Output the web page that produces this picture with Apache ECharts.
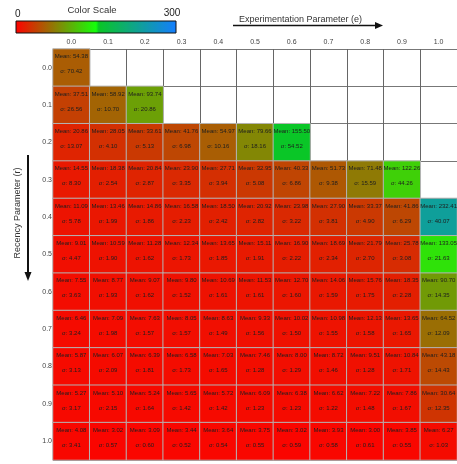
<!DOCTYPE html>
<html>
<head>
<meta charset="utf-8">
<script src="https://cdn.jsdelivr.net/npm/echarts@6/dist/echarts.min.js"></script>
<style>
  html, body { margin: 0; padding: 0; background: #ffffff; }
  #chart { width: 457px; height: 464px; }
</style>
</head>
<body>
<div id="chart"></div>
<script>
// Experimentation parameter (columns) and recency parameter (rows)
const eLabels = ['0.0', '0.1', '0.2', '0.3', '0.4', '0.5', '0.6', '0.7', '0.8', '0.9', '1.0'];
const rLabels = ['0.0', '0.1', '0.2', '0.3', '0.4', '0.5', '0.6', '0.7', '0.8', '0.9', '1.0'];

// Mean per row of r, one entry per e value (missing runs are left out)
const meanByRow = [
  [54.38],
  [37.51, 58.92, 93.74],
  [20.86, 28.05, 33.61, 41.76, 54.97, 79.66, 155.50],
  [14.55, 18.38, 20.84, 23.90, 27.71, 32.95, 40.33, 51.73, 71.48, 122.26],
  [11.09, 13.46, 14.86, 16.58, 18.50, 20.92, 23.98, 27.90, 33.37, 41.86, 232.41],
  [9.01, 10.59, 11.28, 12.34, 13.65, 15.11, 16.90, 18.69, 21.79, 25.78, 133.05],
  [7.55, 8.77, 9.07, 9.80, 10.69, 11.53, 12.70, 14.06, 15.76, 18.35, 90.70],
  [6.46, 7.09, 7.63, 8.05, 8.63, 9.33, 10.02, 10.98, 12.13, 13.65, 64.52],
  [5.87, 6.07, 6.39, 6.58, 7.03, 7.46, 8.00, 8.72, 9.51, 10.84, 43.18],
  [5.27, 5.10, 5.24, 5.65, 5.72, 6.09, 6.38, 6.62, 7.22, 7.86, 30.64],
  [4.08, 3.02, 3.09, 3.44, 3.64, 3.75, 3.02, 3.93, 3.00, 3.85, 6.27]
];

// Standard deviation, same layout as meanByRow
const sigmaByRow = [
  [70.42],
  [26.56, 10.70, 20.86],
  [13.07, 4.10, 5.13, 6.98, 10.16, 18.16, 54.52],
  [8.30, 2.54, 2.87, 3.35, 3.94, 5.08, 6.86, 9.38, 15.59, 44.26],
  [5.78, 1.99, 1.86, 2.23, 2.42, 2.82, 3.22, 3.81, 4.90, 6.29, 40.07],
  [4.47, 1.90, 1.62, 1.73, 1.85, 1.91, 2.22, 2.34, 2.70, 3.08, 21.63],
  [3.63, 1.93, 1.62, 1.52, 1.61, 1.61, 1.60, 1.59, 1.75, 2.28, 14.35],
  [3.24, 1.98, 1.57, 1.57, 1.49, 1.56, 1.50, 1.55, 1.58, 1.65, 12.09],
  [3.13, 2.09, 1.81, 1.73, 1.65, 1.28, 1.29, 1.46, 1.28, 1.71, 14.43],
  [3.17, 2.15, 1.64, 1.42, 1.42, 1.23, 1.23, 1.22, 1.48, 1.67, 12.35],
  [3.41, 0.57, 0.60, 0.52, 0.54, 0.55, 0.59, 0.58, 0.61, 0.55, 1.03]
];

const scaleMin = 0;
const scaleMax = 300;

// Colour ramp: red -> green up to the midpoint, then green -> blue
function mix(a, b, t) {
  return 'rgb(' + a.map((c, i) => Math.round(c + (b[i] - c) * t)).join(',') + ')';
}
const rampStops = [];
for (let v = scaleMin; v <= scaleMax; v += 5) {
  const mid = (scaleMin + scaleMax) / 2;
  const color = v <= mid
    ? mix([255, 0, 0], [20, 255, 10], (v - scaleMin) / (mid - scaleMin))
    : mix([10, 200, 30], [20, 125, 255], (v - mid) / (scaleMax - mid));
  rampStops.push(color);
}

const cells = [];
meanByRow.forEach((row, r) => {
  row.forEach((m, e) => {
    cells.push({ value: [e, r, m, sigmaByRow[r][e]] });
  });
});

const chart = echarts.init(document.getElementById('chart'), null, { renderer: 'canvas' });

const gridLeft = 53, gridTop = 49, cell = 37.36;

chart.setOption({
  animation: false,
  backgroundColor: '#ffffff',
  textStyle: { fontFamily: 'Arial, "Liberation Sans", sans-serif' },
  grid: { left: gridLeft, top: gridTop, width: cell * 11, height: cell * 11, containLabel: false },
  xAxis: {
    type: 'category',
    position: 'top',
    data: eLabels,
    axisLine: { show: false },
    axisTick: { show: false },
    axisLabel: { fontSize: 7, color: '#444', margin: 3 },
    splitLine: { show: true, interval: 0, lineStyle: { color: '#666', width: 1 } }
  },
  yAxis: {
    type: 'category',
    inverse: true,
    data: rLabels,
    axisLine: { show: false },
    axisTick: { show: false },
    axisLabel: { fontSize: 7, color: '#444', margin: 1 },
    splitLine: { show: true, interval: 0, lineStyle: { color: '#777', width: 1 } }
  },
  visualMap: {
    show: false,
    type: 'continuous',
    min: scaleMin,
    max: scaleMax,
    dimension: 2,
    seriesIndex: 0,
    inRange: { color: rampStops }
  },
  series: [{
    type: 'heatmap',
    data: cells,
    itemStyle: { borderColor: '#b4b4b4', borderWidth: 1 },
    emphasis: { disabled: true },
    label: {
      show: true,
      fontSize: 6,
      lineHeight: 15,
      color: '#1e1e1e',
      offset: [0, -3.5],
      formatter: p => 'Mean: ' + p.value[2].toFixed(2) + '\nσ: ' + p.value[3].toFixed(2)
    }
  }],
  graphic: [
    {
      type: 'rect',
      shape: { x: 16, y: 21, width: 160, height: 12 },
      style: {
        fill: new echarts.graphic.LinearGradient(0, 0, 1, 0,
          rampStops.map((c, i) => ({ offset: i / (rampStops.length - 1), color: c }))),
        stroke: '#111', lineWidth: 1
      }
    },
    { type: 'text', x: 15, y: 14, style: { text: '0', fontSize: 10, fill: '#222', textAlign: 'left', textVerticalAlign: 'middle' } },
    { type: 'text', x: 92, y: 10, style: { text: 'Color Scale', fontSize: 9.5, fill: '#333', textAlign: 'center', textVerticalAlign: 'middle' } },
    { type: 'text', x: 172, y: 13, style: { text: '300', fontSize: 10, fill: '#222', textAlign: 'center', textVerticalAlign: 'middle' } },
    { type: 'text', x: 239, y: 20, style: { text: 'Experimentation Parameter (e)', fontSize: 9, fill: '#333', textAlign: 'left', textVerticalAlign: 'middle' } },
    { type: 'line', shape: { x1: 233, y1: 25.5, x2: 377, y2: 25.5 }, style: { stroke: '#111', lineWidth: 1.6 } },
    { type: 'polygon', shape: { points: [[375, 22], [383, 25.5], [375, 29]] }, style: { fill: '#111' } },
    { type: 'text', x: 18, y: 213, rotation: Math.PI / 2, style: { text: 'Recency Parameter (r)', fontSize: 9, fill: '#333', textAlign: 'center', textVerticalAlign: 'middle' } },
    { type: 'line', shape: { x1: 28, y1: 155, x2: 28, y2: 273 }, style: { stroke: '#111', lineWidth: 2 } },
    { type: 'polygon', shape: { points: [[24.5, 272], [28, 281], [31.5, 272]] }, style: { fill: '#111' } }
  ]
});
</script>
</body>
</html>
